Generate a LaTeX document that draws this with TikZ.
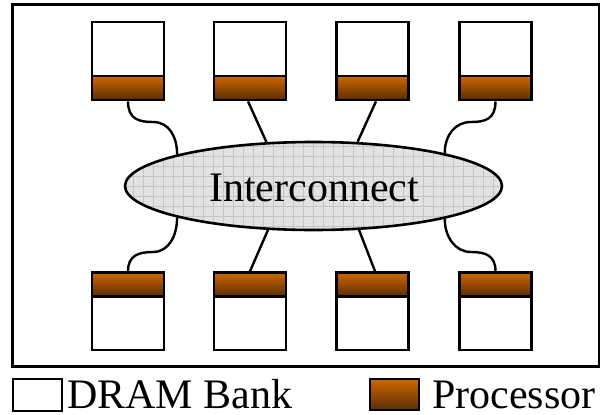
\documentclass[tikz,border=0pt]{standalone}
\usepackage{fontspec}
\setmainfont{Liberation Serif}
\usetikzlibrary{shapes.geometric}
\definecolor{procTop}{RGB}{206,104,0}
\definecolor{procBot}{RGB}{90,44,4}
\definecolor{gridc}{RGB}{196,196,196}
\definecolor{ellfill}{RGB}{226,226,226}
\tikzset{
  bank/.style={draw, line width=2.6pt, fill=white, minimum width=72pt, inner sep=0pt},
  proc/.style={draw, line width=2.6pt, top color=procTop, bottom color=procBot, minimum width=72pt, minimum height=24pt, inner sep=0pt},
  conn/.style={line width=2.4pt},
  big/.style={font=\fontsize{42pt}{48pt}\selectfont, inner sep=0pt},
}
\begin{document}
\begin{tikzpicture}[x=1pt,y=-1pt]
\useasboundingbox (0,0) rectangle (600,415);
\fill[white] (0,0) rectangle (600,415);
% frame
\draw[line width=3pt] (12,4) rectangle (599,366);
% boxes
\foreach \i/\cx in {1/128,2/250,3/372.5,4/495.5}{
  \node[bank, minimum height=54pt] (bt\i) at (\cx,49) {};
  \node[proc] (pt\i) at (\cx,88) {};
  \node[proc] (pb\i) at (\cx,284.5) {};
  \node[bank, minimum height=53pt] (bb\i) at (\cx,323.5) {};
}
% interconnect
\node[ellipse, draw, line width=2.6pt, fill=ellfill, minimum width=377pt, minimum height=88pt, inner sep=0pt,
  path picture={\draw[gridc, line width=0.8pt, step=10pt] (path picture bounding box.south west) grid (path picture bounding box.north east);}]
  (ic) at (313.5,186) {};
\node[big, anchor=base] (ict) at (314,201) {Interconnect};
% connectors top
\draw[conn] (pt1.south) .. controls +(0,18) and +(-14,0) .. (153,122) .. controls +(16,0) and +(0,-18) .. (ic.167);
\draw[conn] (pt2.south -| 248,0) -- (ic.137);
\draw[conn] (pt3.south -| 376,0) -- (ic.45);
\draw[conn] (pt4.south) .. controls +(0,18) and +(14,0) .. (471,122) .. controls +(-16,0) and +(0,-18) .. (ic.14);
% connectors bottom
\draw[conn] (pb1.north) .. controls +(0,-16) and +(-14,0) .. (153,252) .. controls +(16,0) and +(0,18) .. (ic.193);
\draw[conn] (pb2.north -| 250,0) -- (ic.224);
\draw[conn] (pb3.north -| 375,0) -- (ic.316);
\draw[conn] (pb4.north) .. controls +(0,-16) and +(14,0) .. (471,252) .. controls +(-16,0) and +(0,18) .. (ic.346);
% legend
\node[draw, line width=2.4pt, fill=white, minimum width=49pt, minimum height=32pt, inner sep=0pt] (lgb) at (37.5,395) {};
\node[big, anchor=base west] (lgbt) at (67,408) {DRAM Bank};
\node[draw, line width=2.4pt, top color=procTop, bottom color=procBot, minimum width=49pt, minimum height=31pt, inner sep=0pt] (lgp) at (394.5,394.5) {};
\node[big, anchor=base west] (lgpt) at (432,408) {Processor};
\end{tikzpicture}
\end{document}
